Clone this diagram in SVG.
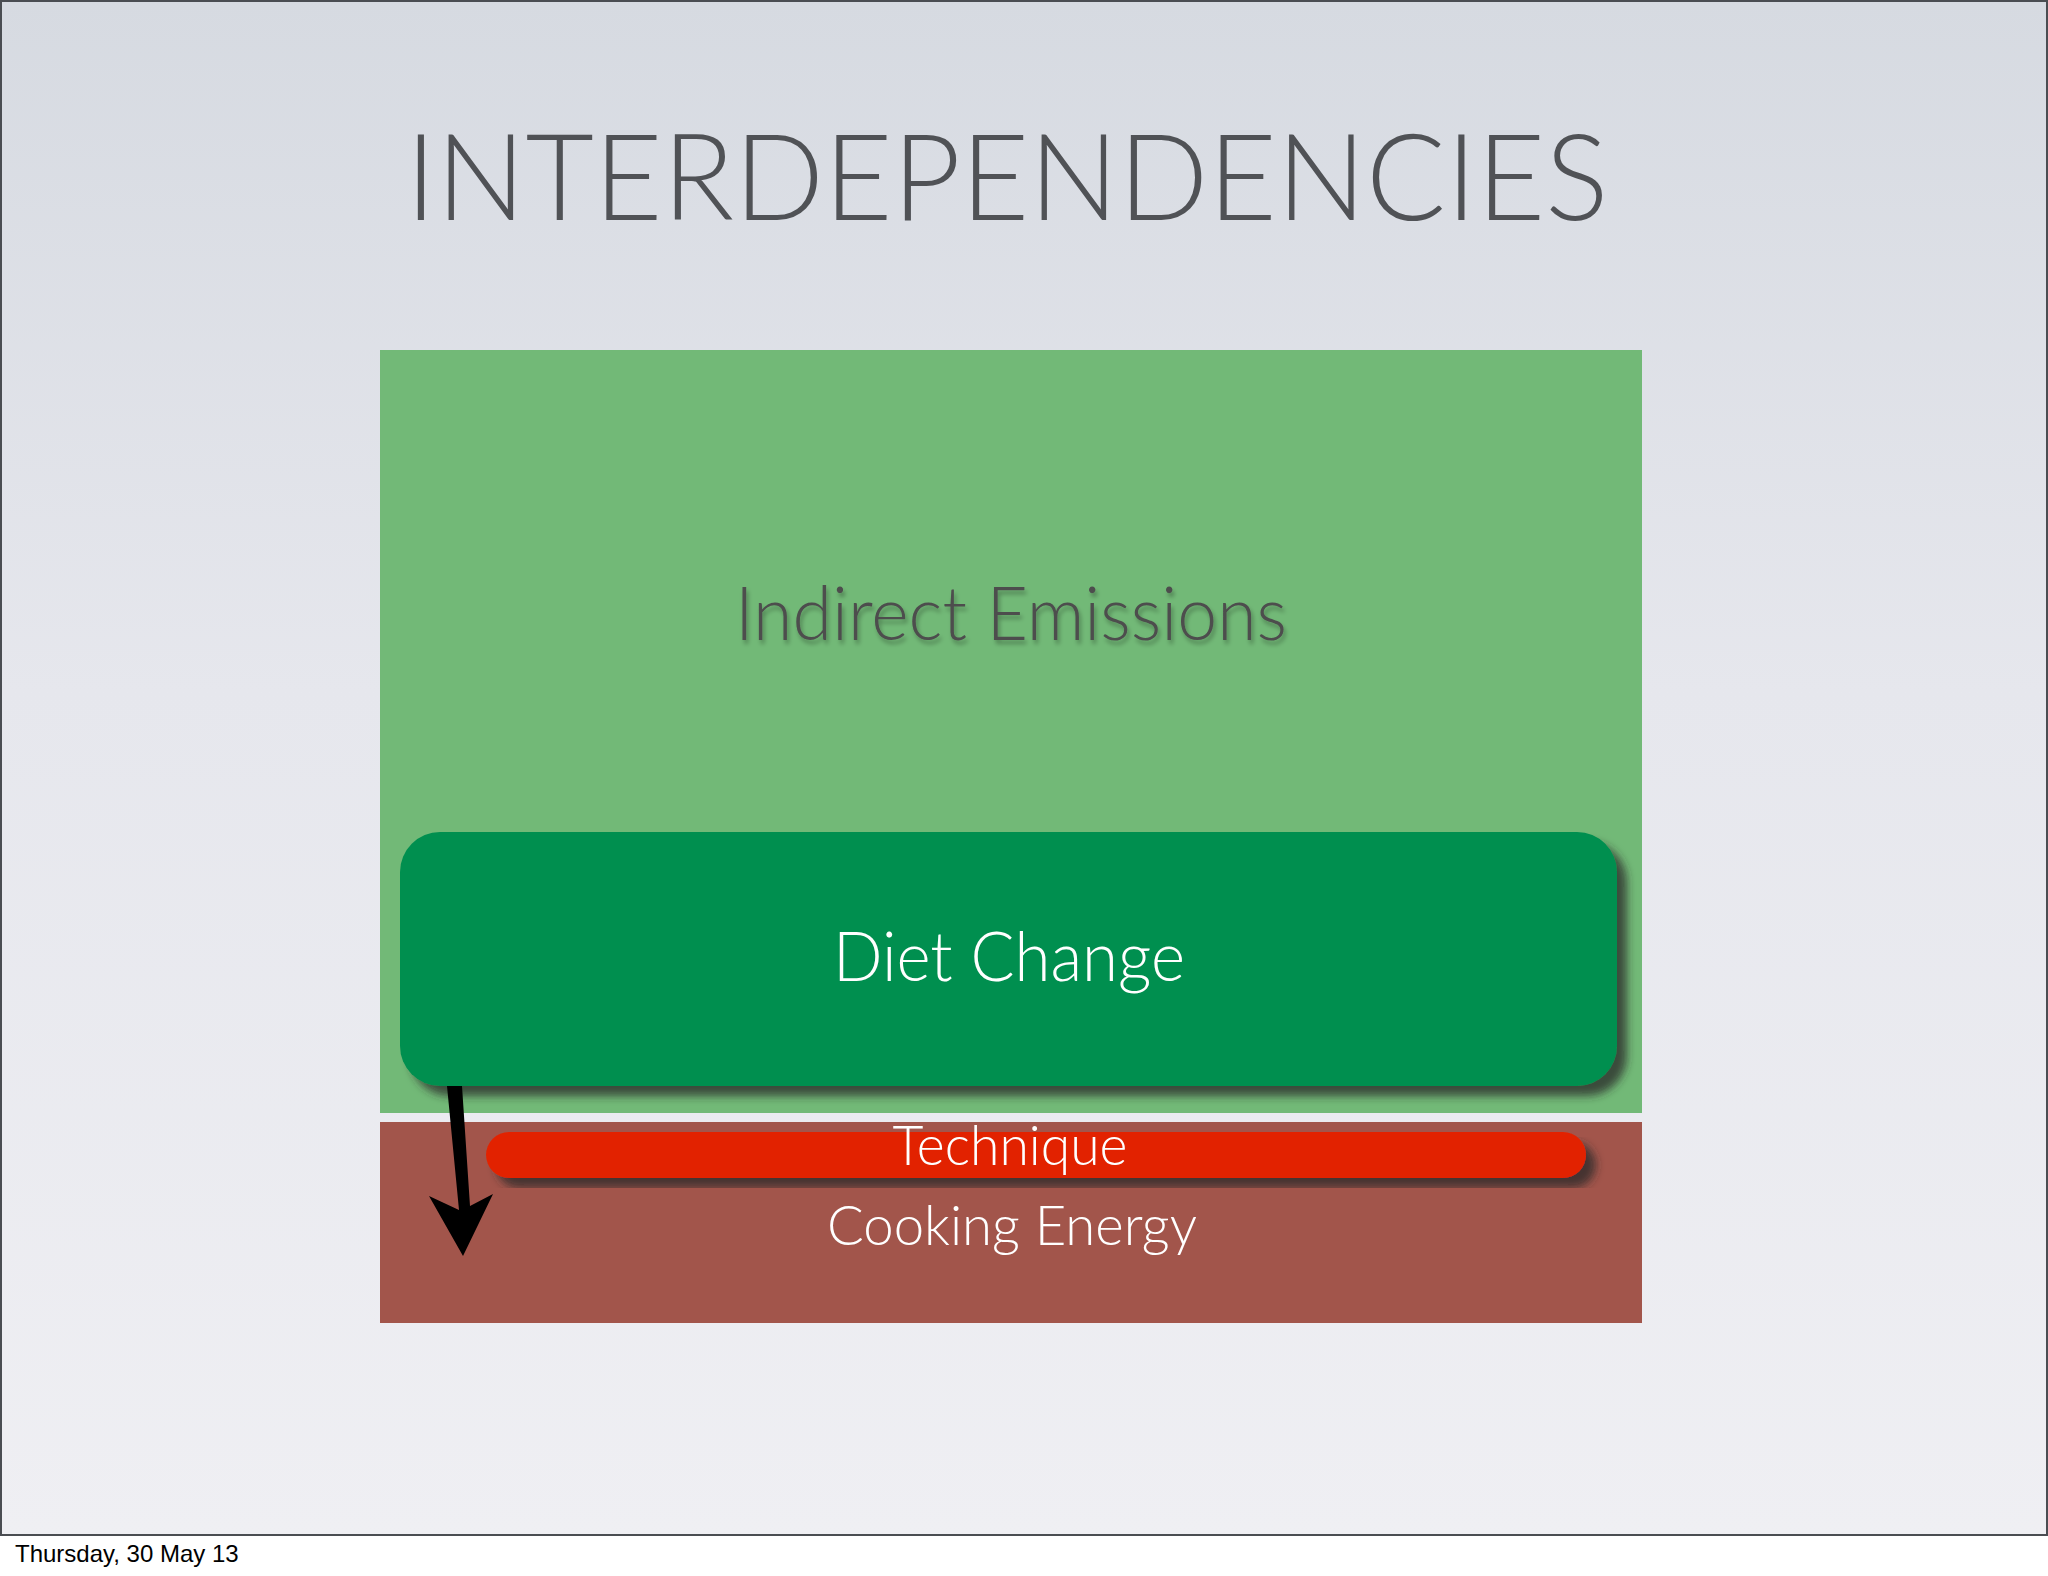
<svg xmlns="http://www.w3.org/2000/svg" width="2048" height="1576" viewBox="0 0 2048 1576">
  <defs>
    <linearGradient id="bg" x1="0" y1="0" x2="0" y2="1">
      <stop offset="0" stop-color="#d6dae1"/>
      <stop offset="0.45" stop-color="#e6e7ed"/>
      <stop offset="1" stop-color="#efeff3"/>
    </linearGradient>
    <filter id="boxShadow" x="-5%" y="-10%" width="115%" height="130%">
      <feGaussianBlur in="SourceAlpha" stdDeviation="4"/>
      <feOffset dx="10" dy="10" result="b"/>
      <feFlood flood-color="#2a2a2a" flood-opacity="0.75"/>
      <feComposite in2="b" operator="in"/>
      <feMerge><feMergeNode/><feMergeNode in="SourceGraphic"/></feMerge>
    </filter>
    <filter id="textShadow" x="-5%" y="-20%" width="110%" height="150%">
      <feGaussianBlur in="SourceAlpha" stdDeviation="2"/>
      <feOffset dx="2" dy="4" result="b"/>
      <feFlood flood-color="#000" flood-opacity="0.3"/>
      <feComposite in2="b" operator="in"/>
      <feMerge><feMergeNode/><feMergeNode in="SourceGraphic"/></feMerge>
    </filter>
  </defs>
  <style>
    .gill { font-family: Lato, "Open Sans", "Liberation Sans", sans-serif; font-weight: 300; }
    .title { font-size: 120px; fill: #505256; }
    .white { fill: #ffffff; }
    .footer { font-family: "Liberation Sans", Arial, sans-serif; font-size: 24px; fill: #000; }
  </style>

  <rect x="0" y="0" width="2048" height="1576" fill="#ffffff"/>
  <rect x="1" y="1" width="2046" height="1534" fill="url(#bg)" stroke="#4a4d52" stroke-width="2"/>

  <text class="gill title" x="1007" y="220" text-anchor="middle" textLength="1203" lengthAdjust="spacingAndGlyphs">INTERDEPENDENCIES</text>

  <g id="indirect-emissions">
    <rect x="380" y="350" width="1262" height="763" fill="#72b977"/>
    <text class="gill" x="1011" y="640" text-anchor="middle" font-size="74" fill="#4d4d4d" filter="url(#textShadow)" textLength="552" lengthAdjust="spacingAndGlyphs">Indirect Emissions</text>
  </g>

  <g id="cooking-energy">
    <rect x="380" y="1122" width="1262" height="201" fill="#a2554b"/>
    <text class="gill white" x="1012" y="1245" text-anchor="middle" font-size="56" textLength="370" lengthAdjust="spacingAndGlyphs">Cooking Energy</text>
  </g>

  <g id="diet-change">
    <rect x="400" y="832" width="1217" height="254" rx="40" ry="40" fill="#008f50" filter="url(#boxShadow)"/>
    <text class="gill white" x="1009" y="981" text-anchor="middle" font-size="68" textLength="352" lengthAdjust="spacingAndGlyphs">Diet Change</text>
  </g>

  <g id="technique">
    <rect x="486" y="1132" width="1100" height="46" rx="23" ry="23" fill="#e22400" filter="url(#boxShadow)"/>
    <text class="gill white" x="1010" y="1165" text-anchor="middle" font-size="56" textLength="235" lengthAdjust="spacingAndGlyphs">Technique</text>
  </g>

  <g id="connectors">
    <polygon points="447,1086 462,1086 470,1206 493,1194 463,1256 429,1196 459,1210" fill="#000000"/>
  </g>

  <text class="footer" x="15" y="1562">Thursday, 30 May 13</text>
</svg>
